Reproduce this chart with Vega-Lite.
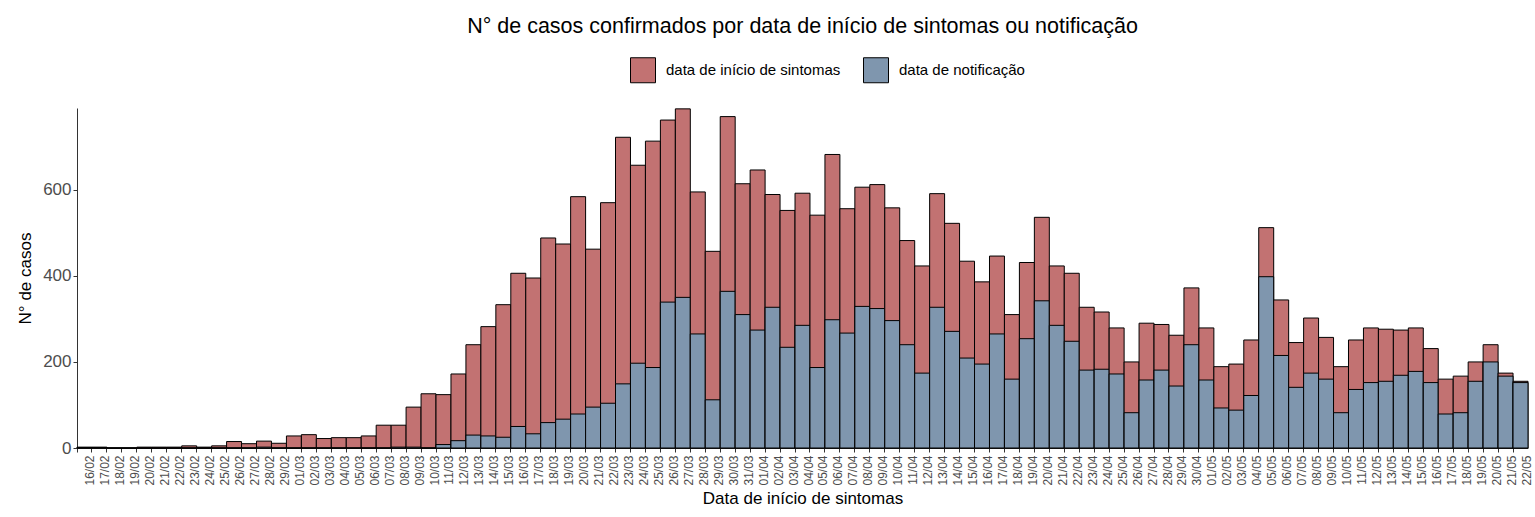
{
  "$schema": "https://vega.github.io/schema/vega-lite/v6.json",
  "width": 1451,
  "height": 340,
  "autosize": {"type": "none"},
  "padding": {"left": 77, "top": 108, "right": 7, "bottom": 69},
  "background": "white",
  "config": {
    "font": "Liberation Sans",
    "view": {"stroke": null},
    "axis": {"grid": false}
  },
  "title": {
    "text": "N° de casos confirmados por data de início de sintomas ou notificação",
    "anchor": "middle",
    "fontSize": 21.5,
    "fontWeight": "normal",
    "color": "black",
    "offset": 20
  },
  "data": {
    "values": [
      {"dia": "16/02", "sintomas": 2, "notificacao": 1},
      {"dia": "17/02", "sintomas": 2, "notificacao": 1},
      {"dia": "18/02", "sintomas": 0, "notificacao": 0},
      {"dia": "19/02", "sintomas": 0, "notificacao": 0},
      {"dia": "20/02", "sintomas": 2, "notificacao": 0},
      {"dia": "21/02", "sintomas": 2, "notificacao": 0},
      {"dia": "22/02", "sintomas": 2, "notificacao": 0},
      {"dia": "23/02", "sintomas": 5, "notificacao": 0},
      {"dia": "24/02", "sintomas": 2, "notificacao": 0},
      {"dia": "25/02", "sintomas": 5, "notificacao": 0},
      {"dia": "26/02", "sintomas": 15, "notificacao": 0},
      {"dia": "27/02", "sintomas": 10, "notificacao": 0},
      {"dia": "28/02", "sintomas": 16, "notificacao": 2},
      {"dia": "29/02", "sintomas": 11, "notificacao": 0},
      {"dia": "01/03", "sintomas": 28, "notificacao": 0},
      {"dia": "02/03", "sintomas": 31, "notificacao": 0},
      {"dia": "03/03", "sintomas": 22, "notificacao": 0},
      {"dia": "04/03", "sintomas": 24, "notificacao": 0},
      {"dia": "05/03", "sintomas": 24, "notificacao": 0},
      {"dia": "06/03", "sintomas": 28, "notificacao": 0},
      {"dia": "07/03", "sintomas": 53, "notificacao": 0},
      {"dia": "08/03", "sintomas": 53, "notificacao": 2},
      {"dia": "09/03", "sintomas": 95, "notificacao": 2},
      {"dia": "10/03", "sintomas": 126, "notificacao": 0},
      {"dia": "11/03", "sintomas": 124, "notificacao": 8},
      {"dia": "12/03", "sintomas": 172, "notificacao": 17},
      {"dia": "13/03", "sintomas": 240, "notificacao": 30},
      {"dia": "14/03", "sintomas": 282, "notificacao": 28},
      {"dia": "15/03", "sintomas": 333, "notificacao": 25},
      {"dia": "16/03", "sintomas": 406, "notificacao": 50},
      {"dia": "17/03", "sintomas": 395, "notificacao": 33},
      {"dia": "18/03", "sintomas": 488, "notificacao": 59},
      {"dia": "19/03", "sintomas": 474, "notificacao": 67},
      {"dia": "20/03", "sintomas": 584, "notificacao": 79},
      {"dia": "21/03", "sintomas": 462, "notificacao": 95},
      {"dia": "22/03", "sintomas": 570, "notificacao": 104},
      {"dia": "23/03", "sintomas": 722, "notificacao": 149},
      {"dia": "24/03", "sintomas": 657, "notificacao": 197},
      {"dia": "25/03", "sintomas": 713, "notificacao": 187},
      {"dia": "26/03", "sintomas": 762, "notificacao": 339},
      {"dia": "27/03", "sintomas": 788, "notificacao": 350},
      {"dia": "28/03", "sintomas": 595, "notificacao": 265},
      {"dia": "29/03", "sintomas": 457, "notificacao": 112},
      {"dia": "30/03", "sintomas": 770, "notificacao": 364},
      {"dia": "31/03", "sintomas": 614, "notificacao": 310},
      {"dia": "01/04", "sintomas": 646, "notificacao": 274},
      {"dia": "02/04", "sintomas": 589, "notificacao": 327},
      {"dia": "03/04", "sintomas": 552, "notificacao": 234},
      {"dia": "04/04", "sintomas": 592, "notificacao": 285},
      {"dia": "05/04", "sintomas": 541, "notificacao": 187},
      {"dia": "06/04", "sintomas": 682, "notificacao": 298},
      {"dia": "07/04", "sintomas": 556, "notificacao": 267},
      {"dia": "08/04", "sintomas": 606, "notificacao": 329},
      {"dia": "09/04", "sintomas": 612, "notificacao": 324},
      {"dia": "10/04", "sintomas": 558, "notificacao": 296},
      {"dia": "11/04", "sintomas": 482, "notificacao": 240},
      {"dia": "12/04", "sintomas": 423, "notificacao": 174},
      {"dia": "13/04", "sintomas": 591, "notificacao": 327},
      {"dia": "14/04", "sintomas": 522, "notificacao": 271},
      {"dia": "15/04", "sintomas": 434, "notificacao": 209},
      {"dia": "16/04", "sintomas": 386, "notificacao": 195},
      {"dia": "17/04", "sintomas": 446, "notificacao": 265},
      {"dia": "18/04", "sintomas": 310, "notificacao": 160},
      {"dia": "19/04", "sintomas": 431, "notificacao": 254},
      {"dia": "20/04", "sintomas": 536, "notificacao": 342},
      {"dia": "21/04", "sintomas": 423, "notificacao": 285},
      {"dia": "22/04", "sintomas": 406, "notificacao": 248},
      {"dia": "23/04", "sintomas": 327, "notificacao": 181},
      {"dia": "24/04", "sintomas": 316, "notificacao": 183},
      {"dia": "25/04", "sintomas": 279, "notificacao": 172},
      {"dia": "26/04", "sintomas": 200, "notificacao": 82},
      {"dia": "27/04", "sintomas": 290, "notificacao": 158},
      {"dia": "28/04", "sintomas": 287, "notificacao": 181},
      {"dia": "29/04", "sintomas": 262, "notificacao": 144},
      {"dia": "30/04", "sintomas": 372, "notificacao": 240},
      {"dia": "01/05", "sintomas": 279, "notificacao": 158},
      {"dia": "02/05", "sintomas": 189, "notificacao": 93},
      {"dia": "03/05", "sintomas": 195, "notificacao": 88},
      {"dia": "04/05", "sintomas": 251, "notificacao": 122},
      {"dia": "05/05", "sintomas": 512, "notificacao": 398},
      {"dia": "06/05", "sintomas": 344, "notificacao": 215},
      {"dia": "07/05", "sintomas": 245, "notificacao": 141},
      {"dia": "08/05", "sintomas": 302, "notificacao": 174},
      {"dia": "09/05", "sintomas": 257, "notificacao": 160},
      {"dia": "10/05", "sintomas": 189, "notificacao": 82},
      {"dia": "11/05", "sintomas": 251, "notificacao": 136},
      {"dia": "12/05", "sintomas": 279, "notificacao": 152},
      {"dia": "13/05", "sintomas": 276, "notificacao": 155},
      {"dia": "14/05", "sintomas": 274, "notificacao": 169},
      {"dia": "15/05", "sintomas": 279, "notificacao": 178},
      {"dia": "16/05", "sintomas": 231, "notificacao": 152},
      {"dia": "17/05", "sintomas": 160, "notificacao": 79},
      {"dia": "18/05", "sintomas": 167, "notificacao": 82},
      {"dia": "19/05", "sintomas": 200, "notificacao": 155},
      {"dia": "20/05", "sintomas": 240, "notificacao": 200},
      {"dia": "21/05", "sintomas": 174, "notificacao": 167},
      {"dia": "22/05", "sintomas": 155, "notificacao": 152}
    ]
  },
  "transform": [
    {"fold": ["sintomas", "notificacao"], "as": ["tipo", "casos"]}
  ],
  "mark": {"type": "bar", "stroke": "black", "strokeWidth": 1, "opacity": 1},
  "encoding": {
    "x": {
      "field": "dia",
      "type": "ordinal",
      "sort": null,
      "scale": {"paddingInner": 0, "paddingOuter": 0},
      "axis": {
        "title": "Data de início de sintomas",
        "titleFontSize": 17,
        "titleFontWeight": "normal",
        "titleColor": "black",
        "titlePadding": 5,
        "labelAngle": 270,
        "labelFontSize": 12,
        "labelColor": "#4D4D4D",
        "labelPadding": 3,
        "bandPosition": 0,
        "labelOffset": 6,
        "tickSize": 4,
        "tickColor": "#333333",
        "domainColor": "#333333",
        "labelOverlap": false
      }
    },
    "y": {
      "field": "casos",
      "type": "quantitative",
      "stack": null,
      "scale": {"domain": [0, 790], "nice": false},
      "axis": {
        "title": "N° de casos",
        "titleFontSize": 17,
        "titleFontWeight": "normal",
        "titleColor": "black",
        "titlePadding": 8,
        "values": [0, 200, 400, 600],
        "labelFontSize": 17,
        "labelColor": "#4D4D4D",
        "labelPadding": 2,
        "tickSize": 4,
        "tickColor": "#333333",
        "domainColor": "#333333"
      }
    },
    "color": {
      "field": "tipo",
      "type": "nominal",
      "scale": {"domain": ["sintomas", "notificacao"], "range": ["#C27272", "#7F96AE"]},
      "legend": {
        "title": null,
        "orient": "none",
        "legendX": 553,
        "legendY": -51,
        "direction": "horizontal",
        "symbolType": "square",
        "symbolSize": 625,
        "symbolStrokeColor": "black",
        "symbolStrokeWidth": 1,
        "symbolOpacity": 1,
        "labelFontSize": 15,
        "labelLimit": 400,
        "labelColor": "black",
        "labelOffset": 10,
        "columnPadding": 20,
        "labelExpr": "datum.value == 'sintomas' ? 'data de início de sintomas' : 'data de notificação'"
      }
    }
  }
}
